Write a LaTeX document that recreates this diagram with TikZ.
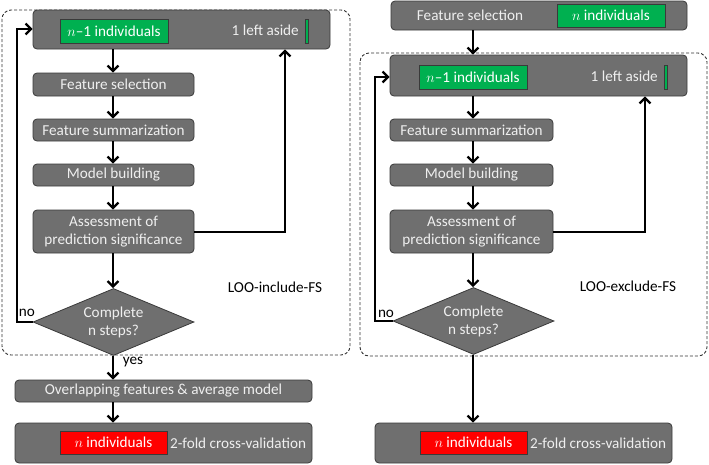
\documentclass[tikz,border=0pt]{standalone}
\usepackage{fontspec}
\setmainfont{Carlito}
\usetikzlibrary{arrows.meta,shapes.geometric}
\definecolor{boxgray}{HTML}{6F6F6F}
\definecolor{boxline}{HTML}{3A3A3A}
\definecolor{boxtext}{HTML}{EFEFEF}
\definecolor{grn}{HTML}{00B050}
\newcommand{\fs}{\fontsize{15.2}{17}\selectfont}
\newcommand{\fstwo}{\fontsize{15.2}{18}\selectfont}
\tikzset{
  gbox/.style={draw=boxline, line width=0.8pt, fill=boxgray, rounded corners=4pt, inner sep=0pt, text=boxtext, font=\fs},
  greenbox/.style={draw=boxline, line width=0.8pt, fill=grn, inner sep=0pt, text=white, font=\fs, minimum width=108pt, minimum height=24pt},
  redbox/.style={draw=boxline, line width=0.8pt, fill=red, inner sep=0pt, text=white, font=\fs, minimum width=107pt, minimum height=23pt},
  bar/.style={draw=boxline, line width=0.8pt, fill=grn, inner sep=0pt, minimum width=3pt, minimum height=24pt},
  dec/.style={shape=diamond, draw=boxline, line width=0.8pt, fill=boxgray, inner sep=0pt, aspect=2.44, minimum width=161pt, minimum height=67pt, text=boxtext, align=center, font=\fstwo},
  intext/.style={inner sep=0pt, text=boxtext, font=\fs},
  lbl/.style={inner sep=0pt, text=black, font=\fs},
  conn/.style={line width=2.2pt, -{Straight Barb[length=5.5pt,width=11pt,line width=2.2pt]}},
  group/.style={draw=black!80, dash pattern=on 3pt off 2pt, line width=0.9pt, rounded corners=9pt},
}
\begin{document}
\begin{tikzpicture}[x=1pt,y=-1pt]
\useasboundingbox (0,0) rectangle (709,464);
% dashed groups
\draw[group] (2,10) rectangle (350,355);
\draw[group] (360,53) rectangle (707,356);

% ---------- left ----------
\node[gbox, minimum width=297pt, minimum height=39pt] (top1) at (181.5,29.5) {};
\node[greenbox] (g1) at (114,31) {$n$–1 individuals};
\node[intext, anchor=east] (la1) at (299,30) {1 left aside};
\node[bar] (b1) at (306.5,31) {};
\node[gbox, minimum width=161pt, minimum height=23pt] (fs1) at (113.5,84.5) {Feature selection};
\node[gbox, minimum width=161pt, minimum height=22pt] (su1) at (113.5,130) {Feature summarization};
\node[gbox, minimum width=161pt, minimum height=22pt] (mb1) at (113.5,175) {Model building};
\node[gbox, minimum width=161pt, minimum height=43pt, align=center, font=\fstwo] (as1) at (113.5,231.5) {Assessment of\\prediction significance};
\node[dec] (d1) at (113.5,322) {Complete\\n steps?};
\node[lbl] (no1) at (27,313) {no};
\node[lbl] (yes1) at (133,362) {yes};
\node[lbl] (loo1) at (275,287) {LOO-include-FS};
\node[gbox, minimum width=297pt, minimum height=22pt] (ov1) at (163.5,391) {Overlapping features \& average model};
\node[gbox, minimum width=297pt, minimum height=40pt] (fin1) at (163.5,443) {};
\node[redbox] (r1) at (113.5,442.5) {$n$ individuals};
\node[intext, anchor=west] (cv1) at (170,443) {2-fold cross-validation};

\coordinate (l1a) at (17,322);
\coordinate (l1b) at (17,29);
\coordinate (r1a) at (285,232);
\draw[conn] (113,49) -- (fs1.north -| 113,0);
\draw[conn] (fs1.south -| 113,0) -- (su1.north -| 113,0);
\draw[conn] (su1.south -| 113,0) -- (mb1.north -| 113,0);
\draw[conn] (mb1.south -| 113,0) -- (as1.north -| 113,0);
\draw[conn] (as1.south -| 113,0) -- (d1.north -| 113,0);
\draw[conn] (d1.south -| 113,0) -- (ov1.north -| 113,0);
\draw[conn] (ov1.south -| 113,0) -- (fin1.north -| 113,0);
\draw[conn] (d1.west) -- (l1a) -- (l1b) -- (l1b -| top1.west);
\draw[conn] (as1.east |- r1a) -- (r1a) -- (r1a |- top1.south);

% ---------- right ----------
\node[gbox, minimum width=296pt, minimum height=29pt] (fsR) at (539,15.5) {};
\node[intext] (fsRt) at (470,15.5) {Feature selection};
\node[greenbox, minimum height=23pt] (gR0) at (611,15.5) {$n$ individuals};
\node[gbox, minimum width=297pt, minimum height=41pt] (topR) at (538.5,75.5) {};
\node[greenbox] (gR) at (473,77) {$n$–1 individuals};
\node[intext, anchor=east] (laR) at (658,76) {1 left aside};
\node[bar] (bR) at (665.5,77) {};
\node[gbox, minimum width=163pt, minimum height=22pt] (suR) at (471.5,130) {Feature summarization};
\node[gbox, minimum width=163pt, minimum height=22pt] (mbR) at (471.5,175) {Model building};
\node[gbox, minimum width=163pt, minimum height=43pt, align=center, font=\fstwo] (asR) at (471.5,231.5) {Assessment of\\prediction significance};
\node[dec] (dR) at (473.5,321) {Complete\\n steps?};
\node[lbl] (noR) at (386,314) {no};
\node[lbl] (looR) at (628,286) {LOO-exclude-FS};
\node[gbox, minimum width=297pt, minimum height=40pt] (finR) at (523.5,443) {};
\node[redbox] (rR) at (473.5,442.5) {$n$ individuals};
\node[intext, anchor=west] (cvR) at (530,443) {2-fold cross-validation};

\coordinate (lRa) at (375,321);
\coordinate (lRb) at (375,77);
\coordinate (rRa) at (645,232);
\draw[conn] (fsR.south -| 473,0) -- (topR.north -| 473,0);
\draw[conn] (topR.south -| 473,0) -- (suR.north -| 473,0);
\draw[conn] (suR.south -| 473,0) -- (mbR.north -| 473,0);
\draw[conn] (mbR.south -| 473,0) -- (asR.north -| 473,0);
\draw[conn] (asR.south -| 473,0) -- (dR.north -| 473,0);
\draw[conn] (dR.south -| 473,0) -- (finR.north -| 473,0);
\draw[conn] (dR.west) -- (lRa) -- (lRb) -- (lRb -| topR.west);
\draw[conn] (asR.east |- rRa) -- (rRa) -- (rRa |- topR.south);
\end{tikzpicture}
\end{document}
